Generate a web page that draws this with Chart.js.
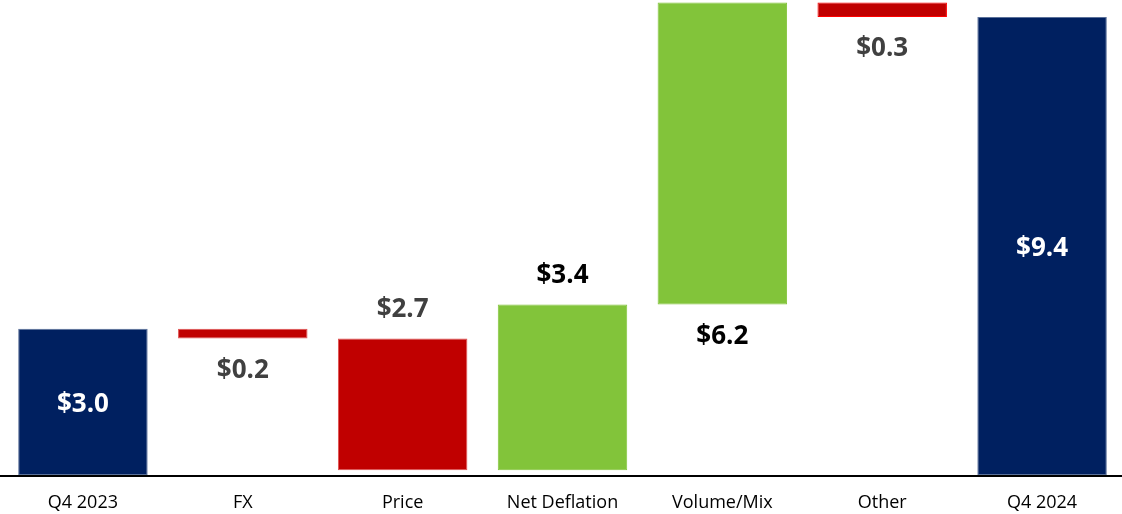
<!DOCTYPE html>
<html>
<head>
<meta charset="utf-8">
<script src="https://cdn.jsdelivr.net/npm/chart.js@4"></script>
<style>
  html, body { margin: 0; padding: 0; background: #fff; }
  #wrap { width: 1122px; height: 514px; position: relative; }
</style>
</head>
<body>
<div id="wrap"><canvas id="chart"></canvas></div>
<script>
// --- DATA ---
const categories = ['Q4 2023', 'FX', 'Price', 'Net Deflation', 'Volume/Mix', 'Other', 'Q4 2024'];
const changes = [3.0, -0.2, -2.7, 3.4, 6.2, -0.3, 9.4];
const isTotal = [true, false, false, false, false, false, true];
const valueLabels = ['$3.0', '$0.2', '$2.7', '$3.4', '$6.2', '$0.3', '$9.4'];
const labelPlace = ['inside', 'below', 'above', 'above', 'below', 'below', 'inside'];

// --- WATERFALL RANGES ---
let running = 0;
const ranges = changes.map((v, i) => {
    if (isTotal[i]) { running = v; return [0, v]; }
    const start = running;
    running = +(running + v).toFixed(2);
    return [start, running];
});

const NAVY = '#002060', RED = '#C00000', GREEN = '#82C43A';
const fillColors = changes.map((v, i) => isTotal[i] ? NAVY : (v < 0 ? RED : GREEN));
const borderColors = changes.map((v, i) => isTotal[i] ? '#5A7099' : (v < 0 ? (i === 5 ? '#FF0000' : '#E05050') : GREEN));
const labelColors = changes.map((v, i) => isTotal[i] ? '#FFFFFF' : (v < 0 ? '#404040' : '#000000'));

// --- LABELS + AXIS LINE PLUGIN ---
const waterfallLabels = {
    id: 'waterfallLabels',
    afterDatasetsDraw(chart) {
        const { ctx } = chart;
        const y0 = chart.scales.y.getPixelForValue(0);
        ctx.save();
        ctx.strokeStyle = '#000';
        ctx.lineWidth = 2;
        ctx.beginPath();
        ctx.moveTo(0, y0 + 1);
        ctx.lineTo(chart.width, y0 + 1);
        ctx.stroke();

        ctx.font = 'bold 26px "Open Sans", sans-serif';
        ctx.textAlign = 'center';
        ctx.textBaseline = 'middle';
        chart.getDatasetMeta(0).data.forEach((bar, i) => {
            const top = Math.min(bar.y, bar.base);
            const bottom = Math.max(bar.y, bar.base);
            let y;
            if (labelPlace[i] === 'inside') y = (top + bottom) / 2 + 3;
            else if (labelPlace[i] === 'above') y = top - 29;
            else y = bottom + 32;
            ctx.fillStyle = labelColors[i];
            ctx.fillText(valueLabels[i], bar.x, y);
        });
        ctx.restore();
    }
};

new Chart(document.getElementById('chart'), {
    type: 'bar',
    data: {
        labels: categories,
        datasets: [{
            data: ranges,
            backgroundColor: fillColors,
            borderColor: borderColors,
            borderWidth: 1,
            borderSkipped: false,
            barPercentage: 0.81,
            categoryPercentage: 1.0
        }]
    },
    options: {
        responsive: true,
        maintainAspectRatio: false,
        animation: false,
        layout: { padding: { left: 3, right: 0, top: 0, bottom: 2 } },
        plugins: { legend: { display: false }, tooltip: { enabled: false } },
        scales: {
            x: {
                grid: { display: false, drawTicks: false },
                border: { display: false },
                ticks: { color: '#000', padding: 17, font: { family: 'Open Sans', size: 18 } },
                afterFit(scale) { scale.height = 37; }
            },
            y: {
                display: false,
                min: 0,
                max: 9.75
            }
        }
    },
    plugins: [waterfallLabels]
});
</script>
</body>
</html>
